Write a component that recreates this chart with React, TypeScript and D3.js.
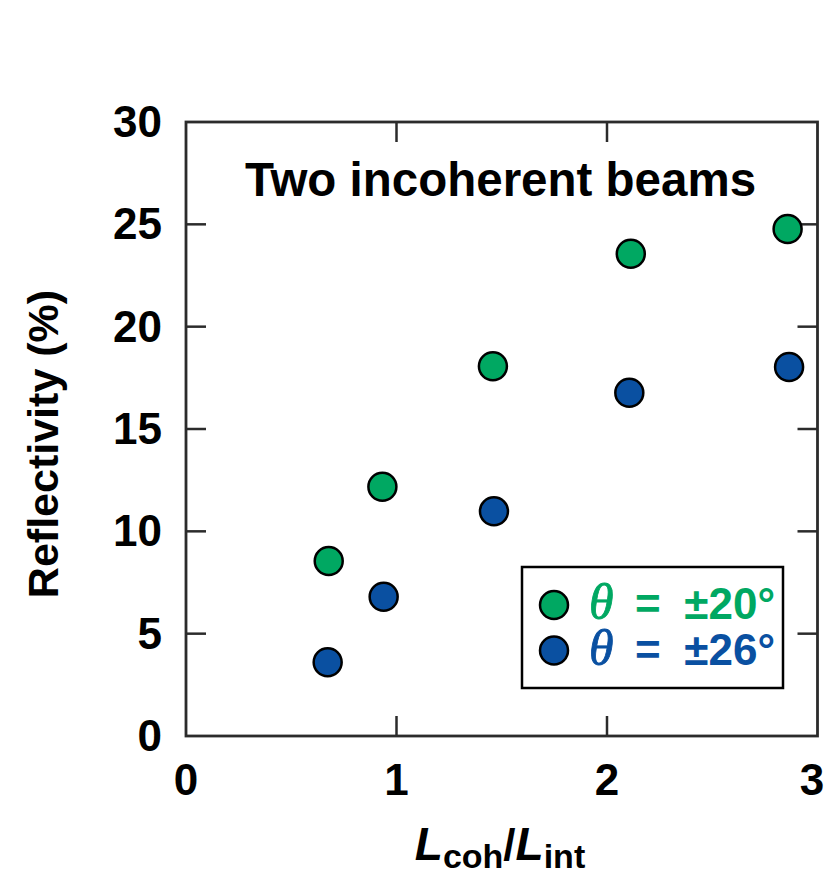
import React from "react";
import * as d3 from "d3";

const xValsGreen = [0.678, 0.933, 1.458, 2.113, 2.858];
const yValsGreen = [8.55, 12.18, 18.07, 23.56, 24.77];
const xValsBlue = [0.673, 0.939, 1.463, 2.106, 2.865];
const yValsBlue = [3.6, 6.8, 10.98, 16.77, 18.03];
const xTicks = [0, 1, 2, 3];
const yTicks = [0, 5, 10, 15, 20, 25, 30];
const seriesNames = ["±20°", "±26°"];
const title = "Two incoherent beams";

const GREEN = "#00A862";
const BLUE = "#0A50A1";
const FRAME = "#2b2b2b";
const SANS = "'Liberation Sans', Arial, Helvetica, sans-serif";

export default function App() {
  const W = 828, H = 882;
  const left = 186, right = 817.5, top = 122, bottom = 736;
  const x = d3.scaleLinear().domain([0, 3]).range([left, right]);
  const y = d3.scaleLinear().domain([0, 30]).range([bottom, top]);
  const tickLen = 20;
  const green = xValsGreen.map((v, i) => [v, yValsGreen[i]]);
  const blue = xValsBlue.map((v, i) => [v, yValsBlue[i]]);
  const r = 14;

  return (
    <div style={{ position: "absolute", left: 0, top: 0 }}>
      <svg width={W} height={H} viewBox={`0 0 ${W} ${H}`} style={{ display: "block", background: "#fff" }}>
        {/* ticks */}
        <g stroke={FRAME} strokeWidth={2.5}>
          {xTicks.slice(1, -1).map((t) => (
            <g key={"xt" + t}>
              <line x1={x(t)} x2={x(t)} y1={bottom} y2={bottom - tickLen} />
              <line x1={x(t)} x2={x(t)} y1={top} y2={top + tickLen} />
            </g>
          ))}
          {yTicks.slice(1, -1).map((t) => (
            <g key={"yt" + t}>
              <line x1={left} x2={left + tickLen} y1={y(t)} y2={y(t)} />
              <line x1={right} x2={right - tickLen} y1={y(t)} y2={y(t)} />
            </g>
          ))}
        </g>
        <rect x={left} y={top} width={right - left} height={bottom - top} fill="none" stroke={FRAME} strokeWidth={2.8} />
        {/* tick labels */}
        <g fontFamily={SANS} fontWeight="bold" fontSize={44} fill="#000">
          {xTicks.map((t) => (
            <text key={"xl" + t} x={Math.min(x(t), 812)} y={795} textAnchor="middle">{t}</text>
          ))}
          {yTicks.map((t) => (
            <text key={"yl" + t} x={162} y={y(t) + 15} textAnchor="end">{t}</text>
          ))}
        </g>
        {/* title */}
        <text x={(244 + 757) / 2} y={196} textAnchor="middle" fontFamily={SANS} fontWeight="bold" fontSize={47.5} fill="#000">
          {title}
        </text>
        {/* points */}
        {green.map(([a, b], i) => (
          <circle key={"g" + i} cx={x(a)} cy={y(b)} r={r} fill={GREEN} stroke="#000" strokeWidth={2.5} />
        ))}
        {blue.map(([a, b], i) => (
          <circle key={"b" + i} cx={x(a)} cy={y(b)} r={r} fill={BLUE} stroke="#000" strokeWidth={2.5} />
        ))}
        {/* legend */}
        <rect x={522} y={567} width={261} height={121} fill="#fff" stroke="#000" strokeWidth={2.5} />
        {[GREEN, BLUE].map((c, i) => {
          const cy = 605 + i * 45.5;
          return (
            <g key={"lg" + i} fill={c}>
              <circle cx={554} cy={cy} r={r} fill={c} stroke="#000" strokeWidth={2.5} />
              <text x={589} y={cy + 14} fontSize={50} fontFamily="'Liberation Serif', 'Times New Roman', serif" fontStyle="italic" stroke={c} strokeWidth={0.8}>θ</text>
              <text x={635} y={cy + 14} fontSize={44} fontFamily={SANS} fontWeight="bold">=</text>
              <text x={775} y={cy + 14} fontSize={44} fontFamily={SANS} fontWeight="bold" textAnchor="end">{seriesNames[i]}</text>
            </g>
          );
        })}
        {/* y label */}
        <text transform="translate(58,444) rotate(-90)" textAnchor="middle" fontFamily={SANS} fontWeight="bold" fontSize={43} fill="#000">
          Reflectivity (%)
        </text>
        {/* x label */}
        <text x={500} y={860} textAnchor="middle" fontFamily={SANS} fontWeight="bold" fill="#000">
          <tspan fontStyle="italic" fontSize={46}>L</tspan>
          <tspan fontSize={34} dy={8}>coh</tspan>
          <tspan fontSize={44} dy={-8}>/</tspan>
          <tspan fontStyle="italic" fontSize={46}>L</tspan>
          <tspan fontSize={34} dy={8}>int</tspan>
        </text>
      </svg>
    </div>
  );
}
